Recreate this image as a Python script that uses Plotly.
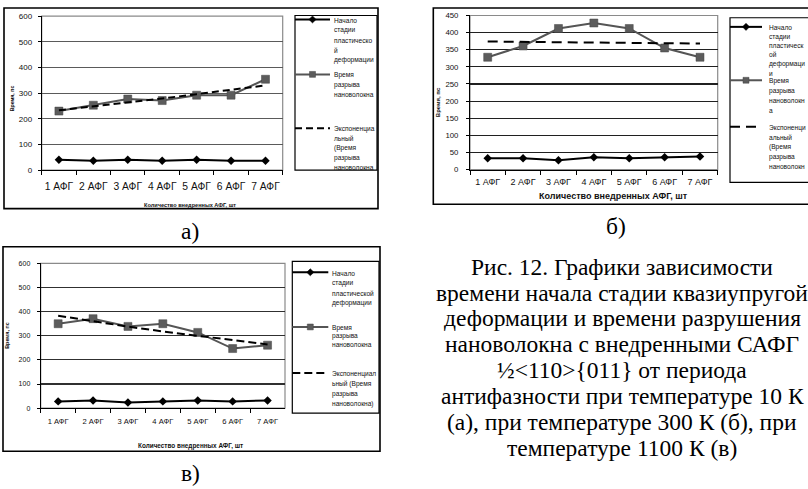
import plotly.graph_objects as go

W, H = 808, 489

categories = ["1 АФГ", "2 АФГ", "3 АФГ", "4 АФГ", "5 АФГ", "6 АФГ", "7 АФГ"]

# (а) 10 K
a_plastic = [41, 37, 41, 37, 41, 37, 37]
a_break = [230, 253, 277, 271, 292, 292, 354]
a_trend = [233, 248, 263, 279, 296, 312, 330]
# (б) 300 K
b_plastic = [33, 33, 27, 36, 33, 36, 38]
b_break = [328, 361, 412, 428, 412, 355, 328]
b_trend = [374, 373, 372, 371, 370, 369, 368]
# (в) 1100 K
c_plastic = [28, 32, 23, 28, 32, 28, 32]
c_break = [350, 371, 339, 350, 314, 247, 261]
c_trend = [383, 360, 338, 318, 299, 281, 264]

y_title = "Время, пс"
x_title = "Количество внедренных АФГ, шт"

a_legend = [["Начало", "стадии", "пластическо", "й", "деформации"],
            ["Время", "разрыва", "нановолокна"],
            ["Экспоненциа", "льный", "(Время", "разрыва", "нановолокна"]]
b_legend = [["Начало", "стадии", "пластическ", "ой", "деформаци", "и"],
            ["Время", "разрыва", "нановолокн", "а"],
            ["Экспоненци", "альный", "(Время", "разрыва", "нановолокн"]]
c_legend = [["Начало", "стадии", "пластической", "деформации"],
            ["Время", "разрыва", "нановолокна"],
            ["Экспоненциал", "ьный (Время", "разрыва", "нановолокна)"]]

caption_lines = [
    "Рис. 12. Графики зависимости",
    "времени начала стадии квазиупругой",
    "деформации и времени разрушения",
    "нановолокна с внедренными САФГ",
    "½&lt;110&gt;{011} от периода",
    "антифазности при температуре 10 К",
    "(а), при температуре 300 К (б), при",
    "температуре 1100 К (в)",
]
panel_labels = ["а)", "б)", "в)"]

SANS = "Liberation Sans, Arial, sans-serif"
SERIF = "Liberation Serif, Times New Roman, serif"


def px(x):
    return x / W


def py(y):
    return 1 - y / H


panels = [
    dict(plastic=a_plastic, brk=a_break, trend=a_trend, legend=a_legend,
         x0=41.7, x1=282.7, y0=12.3, y1=169.3, ymax=600, dtick=100,
         grid="#5a5a5a", xfont=10.3, yfont=8, frame=(4, 4, 378, 208.5),
         lbox=(295, 11.7, 377, 169.3), lsample=(295, 330), ltext=331.5,
         lstart=[15.7, 71.7, 126.7], lstep=[10.2, 10, 9.7], lfont=6.6,
         xt=(190, 204.5, 5.6), yt=(12, 96, 5.2), dash="7px,4px",
         label=(190, 231), xstand=6, ystand=4),
    dict(plastic=b_plastic, brk=b_break, trend=b_trend, legend=b_legend,
         x0=470, x1=717.7, y0=11.7, y1=168.7, ymax=450, dtick=50,
         grid="#202020", xfont=9, yfont=7.8, frame=(433.3, 4, 812, 204),
         lbox=(730, 14, 815, 181.7), lsample=(730, 762), ltext=767.3,
         lstart=[23.3, 77.7, 125], lstep=[9.2, 9.9, 10], lfont=6.6,
         xt=(613.5, 196, 9), yt=(438, 100, 6), dash="10px,6px",
         label=(616, 226), xstand=4, ystand=6),
    dict(plastic=c_plastic, brk=c_break, trend=c_trend, legend=c_legend,
         x0=40.7, x1=285, y0=264.3, y1=411.7, ymax=600, dtick=100,
         grid="#303030", xfont=7.6, yfont=7, frame=(3, 247.3, 380, 455.7),
         lbox=(292.3, 262.3, 379, 416.7), lsample=(292.3, 328.3), ltext=329.5,
         lstart=[273.3, 329, 376], lstep=[10.2, 8.3, 10], lfont=6.6,
         xt=(190, 450, 6.4), yt=(7, 338, 5.4), dash="8px,4px",
         label=(190, 478), xstand=6, ystand=5),
]

fig = go.Figure()
shapes = []
annotations = []
layout_axes = {}

for i, p in enumerate(panels):
    n = "" if i == 0 else str(i + 1)
    xa, ya = "x" + n, "y" + n
    fig.add_trace(go.Scatter(x=categories, y=p["plastic"], xaxis=xa, yaxis=ya,
                             mode="lines+markers",
                             line=dict(color="black", width=2),
                             marker=dict(symbol="diamond", size=6.5, color="black")))
    fig.add_trace(go.Scatter(x=categories, y=p["brk"], xaxis=xa, yaxis=ya,
                             mode="lines+markers",
                             line=dict(color="#555555", width=2),
                             marker=dict(symbol="square", size=8, color="#5c5c5c",
                                         line=dict(color="#444444", width=0.5))))
    fig.add_trace(go.Scatter(x=categories, y=p["trend"], xaxis=xa, yaxis=ya,
                             mode="lines",
                             line=dict(color="black", width=2, dash=p["dash"])))

    layout_axes["xaxis" + n] = dict(
        domain=[px(p["x0"]), px(p["x1"])], anchor=ya, type="category",
        range=[-0.5, 6.5], tickson="boundaries", ticks="outside", ticklen=4,
        tickcolor="black", showline=True, linecolor="black", linewidth=1,
        showgrid=False, zeroline=False, ticklabelstandoff=p["xstand"], tickangle=0,
        tickfont=dict(family=SANS, size=p["xfont"], color="#111111"))
    layout_axes["yaxis" + n] = dict(
        domain=[py(p["y1"]), py(p["y0"])], anchor=xa, range=[0, p["ymax"]],
        dtick=p["dtick"], tick0=0, ticks="outside", ticklen=3, tickcolor="black",
        showline=True, linecolor="black", linewidth=1, showgrid=True,
        gridcolor=p["grid"], gridwidth=1.2, zeroline=False,
        ticklabelstandoff=p["ystand"],
        tickfont=dict(family=SANS, size=p["yfont"], color="#111111"))

    # plot area border (grey) and outer chart frame
    shapes.append(dict(type="rect", xref="paper", yref="paper", layer="below",
                       x0=px(p["x0"]), x1=px(p["x1"]), y0=py(p["y1"]), y1=py(p["y0"]),
                       line=dict(color="#8a8a8a", width=1.2)))
    fx0, fy0, fx1, fy1 = p["frame"]
    shapes.append(dict(type="rect", xref="paper", yref="paper",
                       x0=px(fx0), x1=px(fx1), y0=py(fy1), y1=py(fy0),
                       line=dict(color="black", width=1.6)))
    # legend box
    lx0, ly0, lx1, ly1 = p["lbox"]
    shapes.append(dict(type="rect", xref="paper", yref="paper",
                       x0=px(lx0), x1=px(lx1), y0=py(ly1), y1=py(ly0),
                       line=dict(color="black", width=1.2)))
    sx0, sx1 = p["lsample"]
    sm = (sx0 + sx1) / 2
    for k, entry in enumerate(p["legend"]):
        sy = p["lstart"][k]
        if k == 0:
            shapes.append(dict(type="line", xref="paper", yref="paper",
                               x0=px(sx0), x1=px(sx1), y0=py(sy), y1=py(sy),
                               line=dict(color="black", width=2)))
            d = 3.6
            shapes.append(dict(type="path", xref="paper", yref="paper",
                               path=f"M {px(sm)},{py(sy - d)} L {px(sm + d)},{py(sy)} "
                                    f"L {px(sm)},{py(sy + d)} L {px(sm - d)},{py(sy)} Z",
                               fillcolor="black", line=dict(color="black", width=0.5)))
        elif k == 1:
            shapes.append(dict(type="line", xref="paper", yref="paper",
                               x0=px(sx0), x1=px(sx1), y0=py(sy), y1=py(sy),
                               line=dict(color="#555555", width=2)))
            d = 3
            shapes.append(dict(type="rect", xref="paper", yref="paper",
                               x0=px(sm - d), x1=px(sm + d), y0=py(sy + d), y1=py(sy - d),
                               fillcolor="#5c5c5c", line=dict(color="#444444", width=0.5)))
        else:
            shapes.append(dict(type="line", xref="paper", yref="paper",
                               x0=px(sx0), x1=px(sx1), y0=py(sy), y1=py(sy),
                               line=dict(color="black", width=2, dash=p["dash"])))
        for j, line in enumerate(entry):
            ty = sy + 1 + j * p["lstep"][k]
            annotations.append(dict(xref="paper", yref="paper", x=px(p["ltext"]), y=py(ty),
                                    xanchor="left", yanchor="middle", showarrow=False,
                                    text=line, font=dict(family=SANS, size=p["lfont"], color="#111111")))
    # axis titles
    tx, ty, tf = p["xt"]
    annotations.append(dict(xref="paper", yref="paper", x=px(tx), y=py(ty),
                            xanchor="center", yanchor="middle", showarrow=False,
                            text="<b>" + x_title + "</b>",
                            font=dict(family=SANS, size=tf, color="#111111")))
    tx, ty, tf = p["yt"]
    annotations.append(dict(xref="paper", yref="paper", x=px(tx), y=py(ty),
                            xanchor="center", yanchor="middle", showarrow=False,
                            textangle=-90, text="<b>" + y_title + "</b>",
                            font=dict(family=SANS, size=tf, color="#111111")))
    # panel label
    lx, lyy = p["label"]
    annotations.append(dict(xref="paper", yref="paper", x=px(lx), y=py(lyy),
                            xanchor="center", yanchor="middle", showarrow=False,
                            text=panel_labels[i],
                            font=dict(family=SERIF, size=23.5, color="black")))

for j, line in enumerate(caption_lines):
    cy = 267.5 + j * 26.43
    annotations.append(dict(xref="paper", yref="paper", x=px(622), y=py(cy),
                            xanchor="center", yanchor="middle", showarrow=False,
                            text=line, font=dict(family=SERIF, size=23.5, color="black")))

fig.update_layout(
    width=W, height=H, margin=dict(l=0, r=0, t=0, b=0),
    paper_bgcolor="white", plot_bgcolor="white", showlegend=False,
    hovermode=False,
    shapes=shapes, annotations=annotations, **layout_axes)

fig.write_html("out.html", config={"displayModeBar": False, "staticPlot": True},
               post_script="document.body.style.margin='0';document.body.style.overflow='hidden';")
